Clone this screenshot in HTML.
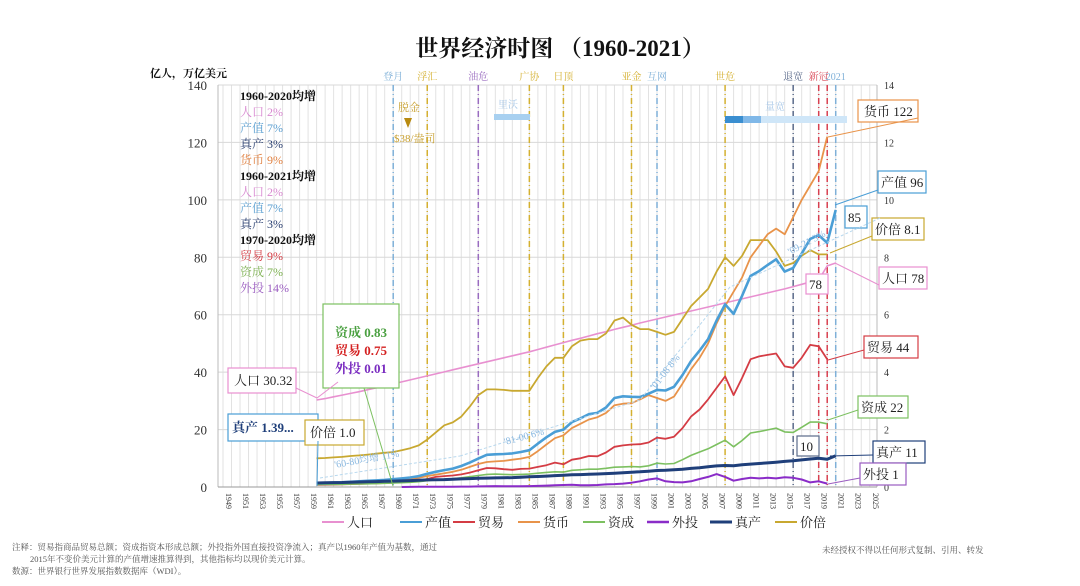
<!DOCTYPE html>
<html><head><meta charset="utf-8">
<style>
html,body{margin:0;padding:0;background:#fff;}
body{width:1080px;height:581px;overflow:hidden;font-family:"Liberation Serif","Noto Serif CJK SC",serif;}
svg text{font-family:"Liberation Serif","Noto Serif CJK SC",serif;}
</style></head>
<body>
<svg id="chart" width="1080" height="581" viewBox="0 0 1080 581" xmlns="http://www.w3.org/2000/svg">
<text x="560" y="56" text-anchor="middle" font-size="23" font-weight="bold" fill="#111">世界经济时图 （1960-2021）</text>
<text x="150" y="77" font-size="11" font-weight="bold" fill="#111">亿人，万亿美元</text>
<g id="grid"></g>
<g id="events"></g>
<g id="series"></g>
<g id="notes"></g>
</svg>
<script>
const years = [];
for (let y = 1960; y <= 2021; y++) years.push(y);
const population = [30.3,30.8,31.4,32.0,32.6,33.2,33.9,34.5,35.2,35.9,36.6,37.3,38.0,38.7,39.4,40.1,40.8,41.5,42.2,42.9,43.6,44.3,45.0,45.7,46.4,47.1,47.9,48.7,49.5,50.3,51.1,51.8,52.6,53.4,54.1,54.9,55.6,56.3,57.1,57.8,58.5,59.2,59.9,60.6,61.3,62.0,62.7,63.4,64.1,64.8,65.5,66.2,66.9,67.6,68.3,69.0,69.8,70.6,71.4,72.1,77.0,78.0];
const gdp = [1.39,1.44,1.55,1.65,1.8,1.99,2.16,2.3,2.46,2.7,2.99,3.3,3.8,4.6,5.3,5.9,6.4,7.3,8.5,9.9,11.2,11.4,11.5,11.7,12.2,12.8,15.1,17.3,19.2,20.0,22.6,23.9,25.4,25.8,27.7,31.0,31.6,31.4,31.3,32.5,33.8,33.6,34.9,39.0,43.8,47.5,51.5,58.0,63.6,60.3,66.6,73.5,75.2,77.3,79.3,75.0,76.3,81.3,86.4,87.7,85.0,96.5];
const money = [1.0,1.1,1.2,1.3,1.4,1.5,1.7,1.9,2.1,2.3,2.5,2.8,3.2,3.8,4.3,4.8,5.3,6.0,7.0,8.0,8.7,8.9,9.1,9.5,9.9,10.5,12.5,14.8,17.0,18.0,20.5,22.0,23.5,24.3,25.8,28.5,29.0,29.2,30.5,32.0,31.0,30.0,31.5,36.0,41.0,45.0,50.0,57.0,63.0,68.0,73.0,80.0,84.0,88.0,90.0,88.0,94.0,100.0,105.0,110.0,122.0,null];
const trade = [0.75,0.8,0.85,0.9,1.0,1.1,1.2,1.3,1.4,1.5,1.7,1.9,2.2,2.8,3.5,3.8,4.0,4.4,5.0,5.8,6.6,6.5,6.2,6.0,6.3,6.4,7.0,7.6,8.5,7.9,9.5,10.0,10.8,10.7,12.0,14.0,14.5,14.8,14.9,15.5,17.2,16.8,17.5,20.5,24.5,27.0,30.5,34.5,38.5,32.0,38.0,44.5,45.5,46.0,46.5,42.0,41.5,45.0,49.5,49.0,44.5,null];
const investment = [0.83,0.87,0.9,0.95,1.0,1.05,1.1,1.2,1.3,1.4,1.5,1.65,1.85,2.2,2.5,2.7,2.9,3.2,3.6,4.0,4.4,4.5,4.4,4.3,4.4,4.5,4.8,5.1,5.3,5.2,5.8,6.0,6.2,6.2,6.5,6.9,7.0,7.1,7.0,7.4,8.3,8.0,8.2,9.5,11.0,12.2,13.3,14.8,16.3,14.0,16.2,18.8,19.3,19.9,20.5,19.2,19.0,20.8,22.6,22.6,22.0,null];
const fdi = [null,null,null,null,null,null,null,null,null,null,0.01,0.05,0.08,0.1,0.1,0.1,0.12,0.13,0.15,0.2,0.25,0.3,0.25,0.25,0.25,0.3,0.4,0.5,0.6,0.7,0.8,0.6,0.6,0.7,0.9,1.0,1.2,1.5,2.0,2.6,3.0,2.0,1.7,1.6,2.0,2.8,3.5,4.5,3.5,2.2,2.8,3.2,3.0,3.2,3.0,3.4,3.2,2.6,1.6,2.0,1.2,null];
const realGdp = [1.39,1.45,1.52,1.58,1.66,1.73,1.81,1.88,1.97,2.06,2.14,2.22,2.34,2.47,2.53,2.58,2.71,2.82,2.94,3.05,3.11,3.17,3.19,3.28,3.43,3.55,3.67,3.80,3.97,4.12,4.24,4.31,4.41,4.52,4.66,4.80,4.97,5.16,5.30,5.49,5.74,5.86,6.02,6.21,6.48,6.73,7.03,7.34,7.50,7.40,7.72,7.96,8.17,8.40,8.65,8.91,9.15,9.45,9.74,9.99,9.66,10.9];
const priceIdx = [1.0,1.01,1.03,1.05,1.08,1.1,1.13,1.16,1.19,1.22,1.28,1.35,1.45,1.65,1.9,2.15,2.25,2.45,2.8,3.2,3.4,3.4,3.38,3.35,3.35,3.35,3.8,4.2,4.5,4.5,4.9,5.1,5.15,5.15,5.35,5.8,5.9,5.65,5.5,5.5,5.4,5.3,5.4,5.85,6.3,6.6,6.9,7.5,8.0,7.7,8.05,8.6,8.6,8.6,8.2,7.7,7.8,8.05,8.25,8.1,8.1,null];
const yTicks = [0,20,40,60,80,100,120,140];
const y2Ticks = [0,2,4,6,8,10,12,14];
const events = [[1969,"登月","#7fb0d8"],[1973,"浮汇","#d4b030"],[1979,"油危","#9a6cc0"],[1985,"广协","#d4b030"],[1989,"日顶","#d4b030"],[1997,"亚金","#d4b030"],[2000,"互网","#7fb0d8"],[2008,"世危","#d4b030"],[2016,"退宽","#5a6a8a"],[2019,"新冠","#d84050"],[2020,"","#d84050"],[2021,"2021","#7fb0d8"]];

const NS = "http://www.w3.org/2000/svg";
const X0 = 223, PX = 8.51, Y0 = 487, PY = 402/140;
const xs = yr => X0 + (yr - 1949) * PX;
const ys = v => Y0 - v * PY;
function mk(tag, attrs, parent, text) {
  const e = document.createElementNS(NS, tag);
  for (const k in attrs) e.setAttribute(k, attrs[k]);
  if (text !== undefined) e.textContent = text;
  parent.appendChild(e);
  return e;
}
const grid = document.getElementById('grid');
for (let yr = 1949; yr <= 2025; yr++) {
  const l = mk('line', {x1: xs(yr), x2: xs(yr), y1: ys(140), y2: Y0, stroke: '#e2e2e2', 'stroke-width': 1}, grid);
  
  
  if ((yr - 1949) % 2 === 0) {
    const t = mk('text', {x: 0, y: 0, 'font-size': 8, fill: '#333', transform: `translate(${xs(yr)+3},${Y0+6}) rotate(90)`}, grid, String(yr));
    
    
  }
}
yTicks.forEach(v => {
  const l = mk('line', {x1: 218, x2: 877, y1: ys(v), y2: ys(v), stroke: '#d8d8d8', 'stroke-width': 1}, grid);
  
  
  const t = mk('text', {x: 207, y: ys(v)+5, 'text-anchor': 'end', 'font-size': 13, fill: '#333'}, grid, String(v));
  
  
});
y2Ticks.forEach(v => {
  const t = mk('text', {x: 884, y: ys(v*10)+4, 'font-size': 10, fill: '#333'}, grid, String(v));
  
  
});
const ax = mk('line', {x1: 218, x2: 218, y1: ys(140), y2: Y0, stroke: '#bbb'}, grid);


const ax2 = mk('line', {x1: 877, x2: 877, y1: ys(140), y2: Y0, stroke: '#bbb'}, grid);


const axb = mk('line', {x1: 218, x2: 877, y1: Y0, y2: Y0, stroke: '#999'}, grid);



const ev = document.getElementById('events');
events.forEach(([yr, lab, col]) => {
  const l = mk('line', {x1: xs(yr), x2: xs(yr), y1: ys(140), y2: Y0, stroke: col, 'stroke-width': 1.5, 'stroke-dasharray': '6 3 1 3'}, ev);
  
  
  if (lab) {
    const t = mk('text', {x: xs(yr), y: 80, 'text-anchor': 'middle', 'font-size': 10, fill: col}, ev, lab);
    
    
  }
});

const ser = document.getElementById('series');
function line(vals, color, w, name, scale) {
  let d = '';
  vals.forEach((v, i) => {
    if (v === null) return;
    d += (d ? 'L' : 'M') + xs(years[i]).toFixed(1) + ',' + ys(v * (scale||1)).toFixed(1);
  });
  const p = mk('path', {d, fill: 'none', stroke: color, 'stroke-width': w, 'stroke-linejoin': 'round'}, ser);
  
  
}
line(population, '#e890d0', 1.6, 'population-line');
line(priceIdx, '#c8a830', 1.8, 'price-index-line', 10);
line(money, '#e8934a', 1.8, 'money-line');
line(trade, '#d43c44', 1.8, 'trade-line');
line(investment, '#7cc060', 1.6, 'investment-line');
line(fdi, '#8a2cc8', 2, 'fdi-line');
line(gdp, '#4a9ed6', 2.6, 'gdp-line');
line(realGdp, '#1f3f7a', 3, 'real-gdp-line');
</script>
<svg style="position:absolute;left:0;top:0" width="1080" height="581">
<g font-size="12">
<text x="240" y="100" font-weight="bold" fill="#111">1960-2020均增</text>
<text x="240" y="116" fill="#d888d0">人口 2%</text>
<text x="240" y="132" fill="#5a9ed0">产值 7%</text>
<text x="240" y="148" fill="#2a3f70">真产 3%</text>
<text x="240" y="164" fill="#e08040">货币 9%</text>
<text x="240" y="180" font-weight="bold" fill="#111">1960-2021均增</text>
<text x="240" y="196" fill="#d888d0">人口 2%</text>
<text x="240" y="212" fill="#5a9ed0">产值 7%</text>
<text x="240" y="228" fill="#2a3f70">真产 3%</text>
<text x="240" y="244" font-weight="bold" fill="#111">1970-2020均增</text>
<text x="240" y="260" fill="#d43c44">贸易 9%</text>
<text x="240" y="276" fill="#7cb050">资成 7%</text>
<text x="240" y="292" fill="#9a5cc0">外投 14%</text>
</g>
<text x="398" y="111" font-size="11" fill="#c8a030">脱金</text>
<polygon points="404,118 412,118 408,128" fill="#b88a10"/>
<text x="394" y="142" font-size="11" fill="#c8a030">$38/盎司</text>
<rect x="494" y="114" width="36" height="6" fill="#a8d0f0"/>
<text x="498" y="108" font-size="10" fill="#a8c8e8">里沃</text>
<rect x="725" y="116" width="122" height="7" fill="#cfe6f8"/>
<rect x="725" y="116" width="18" height="7" fill="#3a8ed0"/>
<rect x="743" y="116" width="18" height="7" fill="#80b8e8"/>
<text x="765" y="110" font-size="10" fill="#a8c8e8">量宽</text>
<g fill="#fff" stroke-width="1.2" font-size="13">
<rect x="858" y="100" width="60" height="22" stroke="#e8934a"/><text x="864" y="116" fill="#222" stroke="none">货币 122</text>
<rect x="878" y="171" width="48" height="22" stroke="#4a9ed6"/><text x="881" y="187" fill="#222" stroke="none">产值 96</text>
<rect x="845" y="206" width="22" height="22" stroke="#4a9ed6"/><text x="848" y="222" fill="#222" stroke="none">85</text>
<rect x="872" y="218" width="52" height="22" stroke="#c8a830"/><text x="875" y="234" fill="#222" stroke="none">价倍 8.1</text>
<rect x="879" y="267" width="48" height="22" stroke="#e890d0"/><text x="882" y="283" fill="#222" stroke="none">人口 78</text>
<rect x="806" y="274" width="22" height="20" stroke="#e890d0"/><text x="809" y="289" fill="#222" stroke="none">78</text>
<rect x="864" y="336" width="54" height="22" stroke="#d43c44"/><text x="867" y="352" fill="#222" stroke="none">贸易 44</text>
<rect x="858" y="396" width="50" height="22" stroke="#7cc060"/><text x="861" y="412" fill="#222" stroke="none">资成 22</text>
<rect x="797" y="436" width="22" height="20" stroke="#5a6a8a"/><text x="800" y="451" fill="#222" stroke="none">10</text>
<rect x="873" y="441" width="52" height="22" stroke="#1f3f7a"/><text x="876" y="457" fill="#222" stroke="none">真产 11</text>
<rect x="860" y="463" width="46" height="22" stroke="#9a5cc0"/><text x="863" y="479" fill="#222" stroke="none">外投 1</text>
<rect x="228" y="368" width="68" height="25" stroke="#e890d0"/><text x="234" y="385" fill="#222" stroke="none">人口 30.32</text>
<rect x="228" y="414" width="90" height="27" stroke="#4a9ed6"/><text x="232" y="432" fill="#1f3f7a" font-weight="bold" stroke="none">真产 1.39...</text>
<rect x="305" y="420" width="59" height="25" stroke="#c8a830"/><text x="310" y="437" fill="#222" stroke="none">价倍 1.0</text>
<rect x="323" y="304" width="76" height="84" stroke="#7cc060"/>
<text x="335" y="337" fill="#4aa040" font-weight="bold" stroke="none">资成 0.83</text>
<text x="335" y="355" fill="#d42020" font-weight="bold" stroke="none">贸易 0.75</text>
<text x="335" y="373" fill="#7a2cc0" font-weight="bold" stroke="none">外投 0.01</text>
</g>
<g stroke-width="1" fill="none">
<path d="M296,388 L317,398 L338,382" stroke="#e890d0"/>
<path d="M318,441 L317,486" stroke="#4a9ed6"/>
<path d="M364,388 L393,486" stroke="#7cc060"/>
<path d="M918,118 L828,137" stroke="#e8934a"/>
<path d="M878,190 L835,205" stroke="#4a9ed6"/>
<path d="M872,236 L830,253" stroke="#c8a830"/>
<path d="M879,285 L835,263" stroke="#e890d0"/>
<path d="M864,350 L828,360" stroke="#d43c44"/>
<path d="M858,410 L828,420" stroke="#7cc060"/>
<path d="M873,455 L830,456" stroke="#1f3f7a"/>
<path d="M860,478 L828,484" stroke="#9a5cc0"/>
<path d="M320,478 L460,456" stroke="#b8d8ee" stroke-dasharray="3 2"/>
<path d="M460,456 L640,400 L730,287 L880,218" stroke="#b8d8ee" stroke-dasharray="3 2"/>
</g>
<text x="335" y="468" font-size="10" fill="#8ab8e0" transform="rotate(-10 335 468)">'60-80均增 11%</text>
<text x="505" y="445" font-size="10" fill="#8ab8e0" transform="rotate(-15 505 445)">'81-00 6%</text>
<text x="655" y="390" font-size="10" fill="#8ab8e0" transform="rotate(-52 655 390)">'01-08 8%</text>
<text x="790" y="255" font-size="10" fill="#8ab8e0" transform="rotate(-28 790 255)">'09-21 3%</text>
<g font-size="13">
<line x1="322" y1="522" x2="344" y2="522" stroke="#e890d0" stroke-width="2"/><text x="347" y="527" fill="#222">人口</text>
<line x1="400" y1="522" x2="422" y2="522" stroke="#4a9ed6" stroke-width="2"/><text x="425" y="527" fill="#222">产值</text>
<line x1="453" y1="522" x2="475" y2="522" stroke="#d43c44" stroke-width="2"/><text x="478" y="527" fill="#222">贸易</text>
<line x1="518" y1="522" x2="540" y2="522" stroke="#e8934a" stroke-width="2"/><text x="543" y="527" fill="#222">货币</text>
<line x1="583" y1="522" x2="605" y2="522" stroke="#7cc060" stroke-width="2"/><text x="608" y="527" fill="#222">资成</text>
<line x1="647" y1="522" x2="669" y2="522" stroke="#8a2cc8" stroke-width="2.5"/><text x="672" y="527" fill="#222">外投</text>
<line x1="710" y1="522" x2="732" y2="522" stroke="#1f3f7a" stroke-width="3"/><text x="735" y="527" fill="#222">真产</text>
<line x1="775" y1="522" x2="797" y2="522" stroke="#c8a830" stroke-width="2"/><text x="800" y="527" fill="#222">价倍</text>
</g>
<g font-size="8.5" fill="#555">
<text x="12" y="550">注释：贸易指商品贸易总额；资成指资本形成总额；外投指外国直接投资净流入；真产以1960年产值为基数，通过</text>
<text x="30" y="562">2015年不变价美元计算的产值增速推算得到，其他指标均以现价美元计算。</text>
<text x="12" y="574">数源：世界银行世界发展指数数据库（WDI）。</text>
<text x="822" y="553">未经授权不得以任何形式复制、引用、转发</text>
</g>
</svg>
</body></html>
